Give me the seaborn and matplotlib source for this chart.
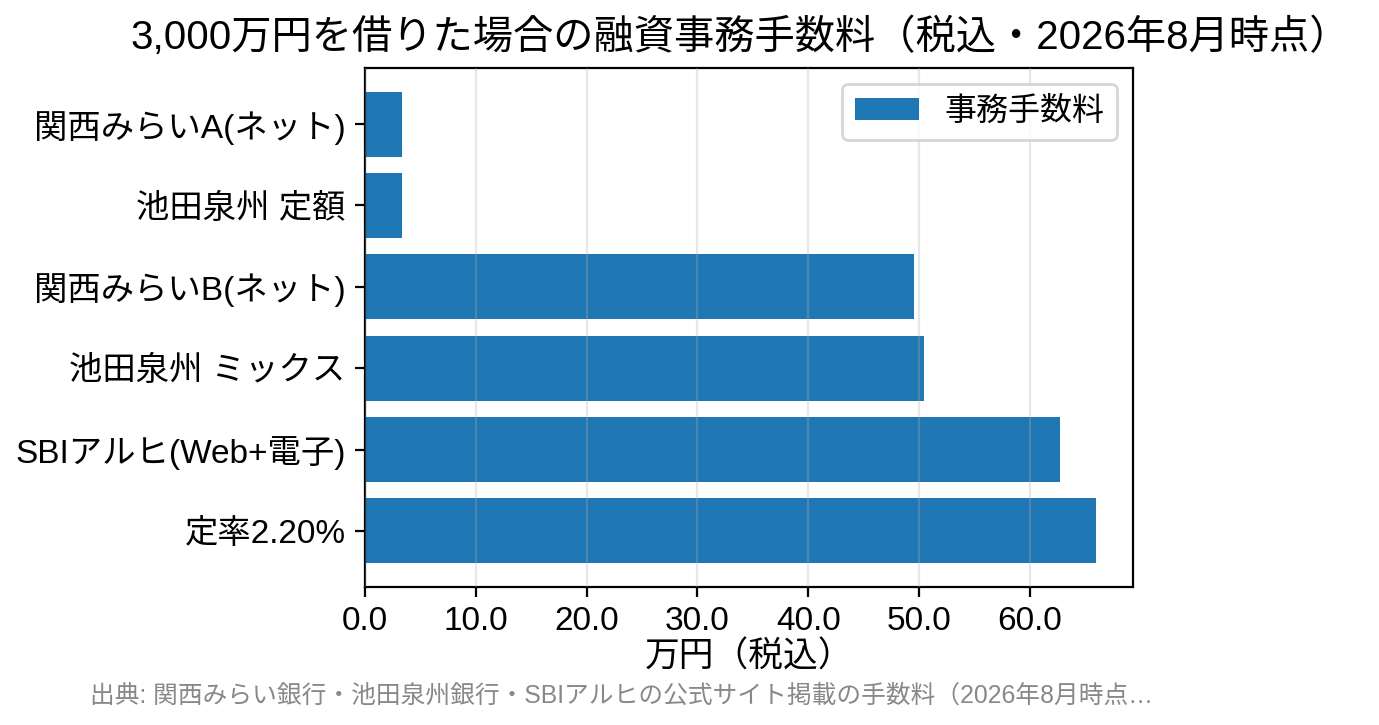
import matplotlib
matplotlib.use("Agg")
import matplotlib.pyplot as plt
import seaborn as sns
from matplotlib.ticker import FormatStrFormatter

# fee for a 30M yen loan, in 万円 (tax incl.), top to bottom
plans = [
    "関西みらいA(ネット)",
    "池田泉州 定額",
    "関西みらいB(ネット)",
    "池田泉州 ミックス",
    "SBIアルヒ(Web+電子)",
    "定率2.20%",
]
fees = [3.3, 3.3, 49.5, 50.4, 62.7, 66.0]
xticks = [0, 10, 20, 30, 40, 50, 60]

plt.rcParams["font.family"] = ["Liberation Sans", "Noto Sans CJK JP", "DejaVu Sans"]
plt.rcParams["font.size"] = 12

fig = plt.figure(figsize=(6.895, 3.625), dpi=200)
ax = fig.add_axes([0.2647, 0.1903, 0.8216 - 0.2647, 0.9062 - 0.1903])

sns.barplot(x=fees, y=plans, orient="h", color="#1f77b4", saturation=1,
            width=0.8, label="事務手数料", ax=ax)

n = len(plans)
ax.set_ylim(n - 1 + 0.69, -0.69)
ax.set_xticks(xticks)
ax.xaxis.set_major_formatter(FormatStrFormatter("%.1f"))
ax.grid(axis="x", alpha=0.3)
ax.set_axisbelow(False)
for bar in ax.patches:
    bar.set_zorder(1)
ax.set_xlabel("万円（税込）", fontsize=12.5, labelpad=1)
ax.set_ylabel("")
ax.tick_params(labelsize=12)
for s in ax.spines.values():
    s.set_visible(True)
    s.set_color("black")

ax.legend(loc="upper right", fontsize=11.5)

fig.text(0.537, 0.948, "3,000万円を借りた場合の融資事務手数料（税込・2026年8月時点）",
         ha="center", va="center", fontsize=14.5)
fig.text(0.065, 0.041, "出典: 関西みらい銀行・池田泉州銀行・SBIアルヒの公式サイト掲載の手数料（2026年8月時点…",
         ha="left", va="center", fontsize=8.9, color="#888888")

fig.savefig("out.png", dpi=200)
